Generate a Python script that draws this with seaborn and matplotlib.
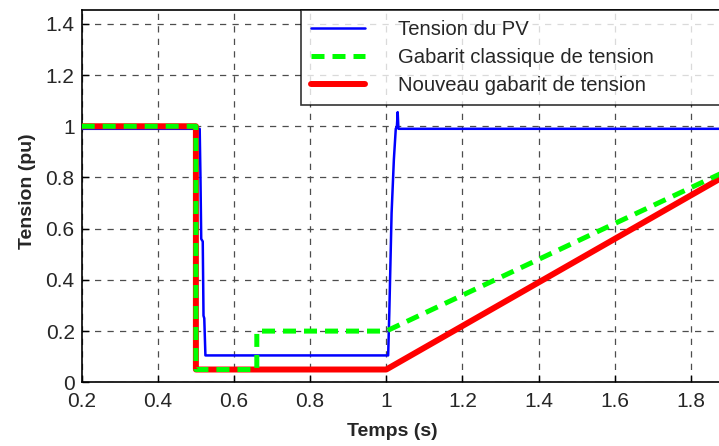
import numpy as np
import matplotlib
matplotlib.use("Agg")
import matplotlib.pyplot as plt
import seaborn as sns

# PV voltage
t_pv = [0.2, 0.51, 0.512, 0.514, 0.518, 0.52, 0.522, 0.525, 1.005, 1.008,
        1.014, 1.02, 1.025, 1.028, 1.03, 1.032, 1.874]
v_pv = [0.99, 0.99, 0.80, 0.56, 0.55, 0.26, 0.25, 0.105, 0.105, 0.27,
        0.66, 0.87, 0.99, 1.0, 1.055, 0.99, 0.99]

# classic voltage template
t_cls = [0.2, 0.5, 0.5, 0.66, 0.66, 1.0, 2.0]
v_cls = [1.0, 1.0, 0.05, 0.05, 0.2, 0.2, 0.9]

# new voltage template
t_new = [0.2, 0.5, 0.5, 1.0, 2.0]
v_new = [1.0, 1.0, 0.05, 0.05, 0.9]

labels = ["Tension du PV", "Gabarit classique de tension", "Nouveau gabarit de tension"]
xticks = [0.2, 0.4, 0.6, 0.8, 1.0, 1.2, 1.4, 1.6, 1.8]
xticklabels = ["0.2", "0.4", "0.6", "0.8", "1", "1.2", "1.4", "1.6", "1.8"]
yticks = [0, 0.2, 0.4, 0.6, 0.8, 1.0, 1.2, 1.4]
yticklabels = ["0", "0.2", "0.4", "0.6", "0.8", "1", "1.2", "1.4"]

sns.set_theme(style="white")
plt.rcParams['font.family'] = ['Liberation Sans', 'DejaVu Sans']

fig = plt.figure(figsize=(7.19, 4.46), dpi=100)
ax = fig.add_axes([0.1136, 0.1428, 0.8864, 0.8348])

sns.lineplot(x=t_pv, y=v_pv, sort=False, estimator=None, color="#0000ff",
             lw=1.8, ax=ax, label=labels[0], zorder=3)
sns.lineplot(x=t_cls, y=v_cls, sort=False, estimator=None, color="#00ff00",
             lw=3.6, linestyle=(0, (2.6, 1.6)), ax=ax, label=labels[1], zorder=5)
sns.lineplot(x=t_new, y=v_new, sort=False, estimator=None, color="#ff0000",
             lw=4.3, ax=ax, label=labels[2], zorder=4)

ax.set_xlim(0.2, 1.874)
ax.set_ylim(0, 1.454)
ax.set_xticks(xticks)
ax.set_xticklabels(xticklabels)
ax.set_yticks(yticks)
ax.set_yticklabels(yticklabels)
ax.tick_params(axis="both", direction="in", length=5, width=1, color="black",
               labelsize=15, pad=5, bottom=True, left=True)
ax.tick_params(axis="x", pad=7)

ax.grid(True, color="0.3", lw=0.9, linestyle=(0, (5, 5)))
for s in ["left", "bottom", "top"]:
    ax.spines[s].set_color("black")
    ax.spines[s].set_linewidth(1.2)
ax.spines["right"].set_visible(False)

ax.set_xlabel("Temps (s)", fontsize=14, fontweight="bold")
ax.set_ylabel("Tension (pu)", fontsize=14, fontweight="bold")
ax.xaxis.set_label_coords(0.488, -0.108)
ax.yaxis.set_label_coords(-0.072, 0.514)

leg = ax.legend(loc="upper left", bbox_to_anchor=(0.344, 0, 0.75, 1.0),
                mode="expand", fontsize=14.6, frameon=True, fancybox=False,
                handlelength=2.7, handletextpad=1.6, labelspacing=0.45,
                borderpad=0.48, borderaxespad=0)
leg.get_frame().set_edgecolor("black")
leg.get_frame().set_linewidth(1.2)
leg.set_zorder(10)

fig.savefig("out.png", dpi=100)
